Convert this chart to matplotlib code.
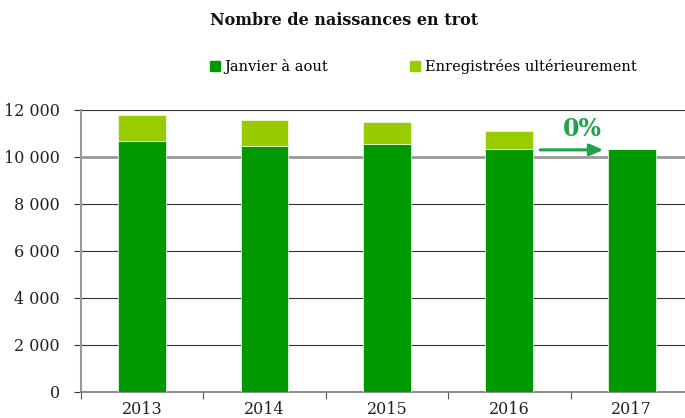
import matplotlib
matplotlib.use("Agg")
import matplotlib.pyplot as plt
import matplotlib.patches as mpatches

years = ["2013", "2014", "2015", "2016", "2017"]
janvier_aout = [10680, 10440, 10520, 10310, 10310]
ulterieur = [1090, 1105, 970, 780, 0]
yticks = [0, 2000, 4000, 6000, 8000, 10000, 12000]
ytick_labels = ["0", "2 000", "4 000", "6 000", "8 000", "10 000", "12 000"]

dark = "#009900"
light = "#99cc00"
arrow_col = "#1ea34a"

plt.rcParams['font.family'] = ['DejaVu Serif']

fig = plt.figure(figsize=(6.85, 4.18), dpi=100)
ax = fig.add_axes([0.1178, 0.0629, 0.8939, 0.6747])

x = list(range(len(years)))
ax.bar(x, janvier_aout, width=0.39, color=dark, edgecolor="#dff0df", linewidth=0.6, zorder=3)
ax.bar(x, ulterieur, width=0.39, bottom=janvier_aout, color=light, edgecolor="#eef8dd", linewidth=0.6, zorder=3)

ax.set_xlim(-0.5, 4.5)
ax.set_ylim(0, 12000)
ax.set_yticks(yticks)
ax.set_yticklabels(ytick_labels, fontsize=11.5, color="#222222")
ax.set_xticks([i + 0.5 for i in range(-1, 5)], minor=False)
ax.set_xticklabels([])
ax.set_xticks(x, minor=True)
ax.set_xticklabels(years, minor=True, fontsize=11.5, color="#222222")
ax.tick_params(axis='x', which='major', length=5, color="#555555", direction='out')
ax.tick_params(axis='x', which='minor', length=0, pad=7)
ax.tick_params(axis='y', length=5, color="#333333", pad=10)

for yv in yticks[1:]:
    if yv == 10000:
        ax.axhline(yv, color="#999999", linewidth=2.0, zorder=1)
    else:
        ax.axhline(yv, color="#333333", linewidth=0.8, zorder=1)

for side in ["top", "right"]:
    ax.spines[side].set_visible(False)
ax.spines["left"].set_color("#999999")
ax.spines["left"].set_linewidth(1.5)
ax.spines["bottom"].set_color("#777777")
ax.spines["bottom"].set_linewidth(1.2)

ax.annotate("", xy=(3.79, janvier_aout[4] - 20), xytext=(3.23, janvier_aout[4] - 20),
            arrowprops=dict(arrowstyle="-|>,head_length=0.8,head_width=0.35", color=arrow_col, lw=2.2),
            zorder=5)
ax.text(3.60, 10900, "0%", color=arrow_col, fontsize=17, fontweight="bold",
        ha="center", va="baseline", zorder=5)

fig.text(0.503, 0.95, "Nombre de naissances en trot", ha="center", va="center",
         fontsize=11.5, fontweight="bold", color="#111111")

handles = [mpatches.Patch(color=dark, label="Janvier à aout"),
           mpatches.Patch(color=light, label="Enregistrées ultérieurement")]
fig.legend(handles=handles, loc="center", bbox_to_anchor=(0.618, 0.84), ncol=2,
           frameon=False, fontsize=10.5, handlelength=0.7, handleheight=0.7,
           handletextpad=0.3, columnspacing=5.6)

fig.savefig("out.png", dpi=100)
